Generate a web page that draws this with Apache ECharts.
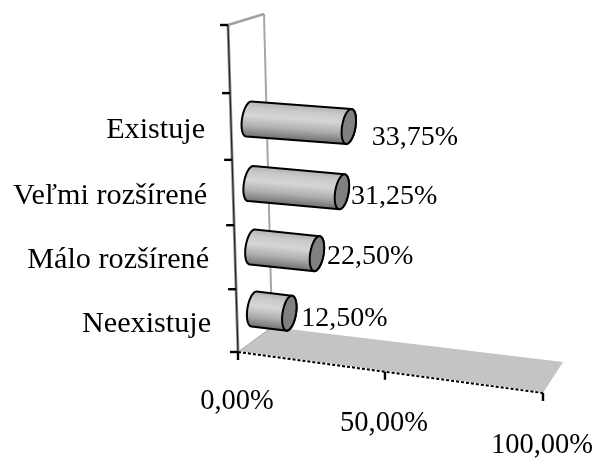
<!DOCTYPE html>
<html>
<head>
<meta charset="utf-8">
<style>html,body{margin:0;padding:0;background:#fff}#chart{width:599px;height:459px}</style>
<script src="https://cdn.jsdelivr.net/npm/echarts@6/dist/echarts.min.js"></script>
</head>
<body>
<div id="chart"></div>
<script>
// Share of answers per category, bottom to top; the top band stays empty.
const categories = ['Neexistuje', 'Málo rozšírené', 'Veľmi rozšírené', 'Existuje', ''];
const shares = [12.5, 22.5, 31.25, 33.75];
const valueTicks = [0, 50, 100];

const fmt = v => v.toFixed(2).replace('.', ',') + '%';
const FONT = '"Liberation Serif", "Times New Roman", serif';

// Manual data label placement relative to each bar's end cap, [dx, dy].
const labelNudge = [[12, 5], [10, 3], [9, 5], [23, 11]];

// Corners of the 3D plot box on screen: [front, back] for bottom-left,
// bottom-right, top-left and top-right edges.
const box = {
  bl: [[238, 352], [272, 327]],
  br: [[543, 393], [563, 362]],
  tl: [[228, 25], [264, 14]],
  tr: [[553, 42], [573, 30]]
};
const lerp = (a, b, t) => a + (b - a) * t;
const lerp2 = (p, q, t) => [lerp(p[0], q[0], t), lerp(p[1], q[1], t)];
const foreshorten = (t, a) => a * t / (1 + (a - 1) * t);

// Turns a point of the flat grid plus a depth into a point of the 3D box.
function projector(params, api) {
  const cs = params.coordSys;
  const bandH = api.size([0, 1])[1];
  return function (value, band, depth) {
    const base = api.coord([value, 0]);
    const px = base[0];
    const py = base[1] - (band - 0.5) * bandH;
    const u = foreshorten((px - cs.x) / cs.width, 0.93);
    const v = foreshorten((cs.y + cs.height - py) / cs.height, 0.95);
    const front = lerp2(lerp2(box.bl[0], box.br[0], u), lerp2(box.tl[0], box.tr[0], u), v);
    const back = lerp2(lerp2(box.bl[1], box.br[1], u), lerp2(box.tl[1], box.tr[1], u), v);
    return lerp2(front, back, depth);
  };
}

const seg = (a, b, stroke, lineWidth, extra) => ({
  type: 'line',
  shape: { x1: a[0], y1: a[1], x2: b[0], y2: b[1] },
  style: Object.assign({ stroke, lineWidth, fill: null }, extra || {})
});
const label = (text, x, y, align, size) => ({
  type: 'text',
  style: { text, x, y, align, verticalAlign: 'middle', fill: '#000', font: size + 'px ' + FONT }
});

// Walls, floor, axes and their labels.
function renderFrame(params, api) {
  const P = projector(params, api);
  const top = categories.length;
  const kids = [];
  kids.push({
    type: 'polygon',
    shape: { points: [P(0, 0, 0), P(100, 0, 0), P(100, 0, 1), P(0, 0, 1)] },
    style: { fill: '#c4c4c4' }
  });
  kids.push(seg(P(0, 0, 0), P(0, 0, 1), '#a8a8a8', 1));
  kids.push(seg(P(0, 0, 1), P(0, top, 1), '#a6a6a6', 2));
  kids.push(seg(P(0, top, 0), P(0, top, 1), '#a0a0a0', 2.5));
  kids.push(seg(P(0, 0, 0), P(0, top, 0), '#9a9a9a', 3));
  kids.push(seg(P(0, 0, 0), P(0, top, 0), '#222', 1.2));
  kids.push(seg(P(0, 0, 0), P(100, 0, 0), '#fff', 2));
  kids.push(seg(P(0, 0, 0), P(100, 0, 0), '#000', 2, { lineDash: [3, 2] }));
  for (let b = 0; b <= top; b++) {
    const p = P(0, b, 0);
    kids.push(seg([p[0] - 8, p[1]], [p[0], p[1]], '#000', 2.4));
  }
  categories.forEach((name, i) => {
    if (!name) return;
    const p = P(0, i + 0.5, 0);
    kids.push(label(name, p[0] - 26, p[1] + 3, 'right', 30.2));
  });
  valueTicks.forEach(t => {
    const p = P(t, 0, 0);
    kids.push(seg([p[0], p[1]], [p[0], p[1] + 8], '#000', 2.4));
    kids.push(label(fmt(t), p[0] - 1, p[1] + 50 + t * 0.03, 'center', 28.5));
  });
  return { type: 'group', children: kids };
}

// Outline points of an end ellipse between two angles.
function arc(c, rx, ry, tilt, from, to) {
  const pts = [];
  for (let k = 0; k <= 24; k++) {
    const a = lerp(from, to, k / 24);
    pts.push([c[0] + rx * Math.cos(a) - tilt * Math.sin(a), c[1] + ry * Math.sin(a)]);
  }
  return pts;
}

// One lying cylinder per category, running from zero to its share.
function renderBar(params, api) {
  const P = projector(params, api);
  const value = api.value(0), index = api.value(1), band = index + 0.5;
  const a = P(0, band, 0.5), b = P(value, band, 0.5);
  const ry = 17.5, rx = 6.8, tilt = 2.5;
  const outline = arc(a, rx, ry, tilt, -Math.PI / 2, -3 * Math.PI / 2)
    .concat(arc(b, rx, ry, tilt, Math.PI / 2, -Math.PI / 2));
  const slope = (b[1] - a[1]) / (b[0] - a[0]);
  const fill = new echarts.graphic.LinearGradient(a[0], a[1] - ry, a[0] - slope * 2 * ry, a[1] + ry, [
    { offset: 0, color: '#b4b4b4' },
    { offset: 0.18, color: '#cacaca' },
    { offset: 0.4, color: '#d6d6d6' },
    { offset: 0.7, color: '#aeaeae' },
    { offset: 1, color: '#707070' }
  ], true);
  const nudge = labelNudge[index];
  return {
    type: 'group',
    children: [
      { type: 'polygon', shape: { points: outline }, style: { fill, stroke: '#000', lineWidth: 2 } },
      {
        type: 'polygon',
        shape: { points: arc(b, rx, ry, tilt, 0, 2 * Math.PI) },
        style: { fill: '#808080', stroke: '#000', lineWidth: 2 }
      },
      label(fmt(value), b[0] + nudge[0], b[1] + nudge[1], 'left', 28)
    ]
  };
}

const chart = echarts.init(document.getElementById('chart'), null, { renderer: 'canvas' });
chart.setOption({
  animation: false,
  backgroundColor: '#fff',
  grid: { left: 100, right: 100, top: 100, bottom: 100 },
  xAxis: { type: 'value', min: 0, max: 100, show: false },
  yAxis: { type: 'category', data: categories, show: false },
  series: [
    { type: 'custom', clip: false, silent: true, z: 1, data: [[0, 0]], renderItem: renderFrame },
    {
      type: 'custom', clip: false, silent: true, z: 2,
      data: shares.map((v, i) => [v, i]),
      encode: { x: 0, y: 1 },
      renderItem: renderBar
    }
  ]
});
</script>
</body>
</html>
